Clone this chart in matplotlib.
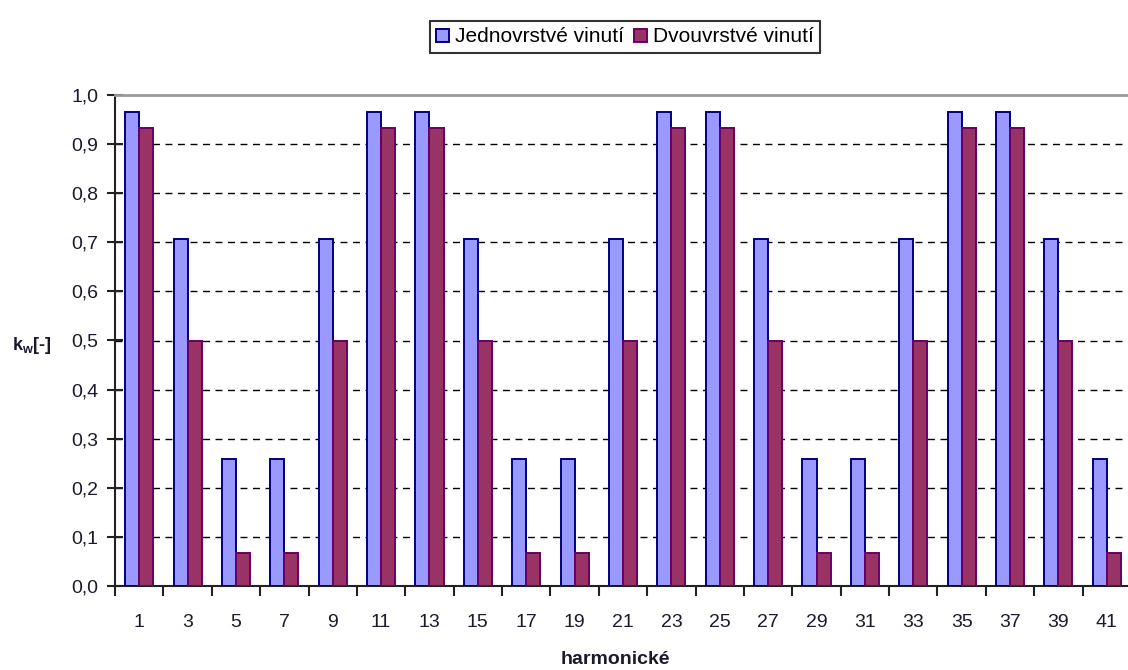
import matplotlib
matplotlib.use("Agg")
import matplotlib.pyplot as plt
import numpy as np
from matplotlib.ticker import FuncFormatter, MultipleLocator

harmonics = [1, 3, 5, 7, 9, 11, 13, 15, 17, 19, 21, 23, 25, 27, 29, 31, 33, 35, 37, 39, 41]
single_layer = [0.966, 0.707, 0.259, 0.259, 0.707, 0.966, 0.966, 0.707, 0.259, 0.259, 0.707,
                0.966, 0.966, 0.707, 0.259, 0.259, 0.707, 0.966, 0.966, 0.707, 0.259]
double_layer = [0.933, 0.500, 0.067, 0.067, 0.500, 0.933, 0.933, 0.500, 0.067, 0.067, 0.500,
                0.933, 0.933, 0.500, 0.067, 0.067, 0.500, 0.933, 0.933, 0.500, 0.067]
series_names = ["Jednovrstvé vinutí", "Dvouvrstvé vinutí"]

plt.rcParams['font.family'] = ['Liberation Sans', 'DejaVu Sans']

W, H = 1128, 670
fig = plt.figure(figsize=(W / 100, H / 100), dpi=100)
ax = fig.add_axes([115 / W, (H - 586) / H, 1016 / W, 491 / H])

x = np.arange(len(harmonics))
bw = 0.29
b1 = ax.bar(x - bw / 2, single_layer, bw, color='#9999FF', edgecolor='#000080', linewidth=1.4,
            label=series_names[0], zorder=3)
b2 = ax.bar(x + bw / 2, double_layer, bw, color='#993366', edgecolor='#660066', linewidth=1.4,
            label=series_names[1], zorder=3)

ax.set_xlim(-0.5, len(harmonics) - 0.5)
ax.set_ylim(0, 1.0)
ax.yaxis.set_major_locator(MultipleLocator(0.1))
ax.yaxis.set_major_formatter(FuncFormatter(lambda v, p: f"{v:.1f}".replace('.', ',')))
ax.set_xticks(x)
ax.set_xticklabels([str(h) for h in harmonics])
ax.set_xticks(np.arange(len(harmonics) + 1) - 0.5, minor=True)
ax.tick_params(axis='x', which='major', length=0, pad=20, labelsize=14, labelcolor='#1a1a2e')
ax.tick_params(axis='x', which='minor', length=7, width=1.5, direction='out', color='#222222')
ax.tick_params(axis='y', which='major', length=12, width=1.5, direction='inout', pad=6,
               labelsize=14, labelcolor='#1a1a2e', color='#222222')

for yv in np.arange(0.1, 0.95, 0.1):
    ax.axhline(yv, color='black', linestyle=(0, (5, 4)), linewidth=1.0, zorder=1)

for side in ['left', 'bottom']:
    ax.spines[side].set_color('#222222')
    ax.spines[side].set_linewidth(1.5)
ax.spines['right'].set_visible(False)
ax.spines['top'].set_color('#999999')
ax.spines['top'].set_linewidth(2)

fig.text(12 / W, 1 - 345 / H, r"k$_\mathregular{w}$[-]", fontsize=13, fontweight='bold',
         ha='left', va='center', color='#1a1a2e')
fig.text(615 / W, 1 - 660 / H, "harmonické", fontsize=14, fontweight='bold',
         ha='center', va='center', color='#1a1a2e')

leg = fig.legend(handles=[b1, b2], labels=series_names, loc='center',
                 bbox_to_anchor=(625 / W, 1 - 37 / H), ncol=2, frameon=True, fancybox=False,
                 fontsize=15, handlelength=0.6, handleheight=0.6, handletextpad=0.3,
                 columnspacing=0.5, borderpad=0.3, borderaxespad=0)
leg.get_frame().set_edgecolor('black')
leg.get_frame().set_linewidth(1.5)

fig.savefig("out.png", dpi=100)
